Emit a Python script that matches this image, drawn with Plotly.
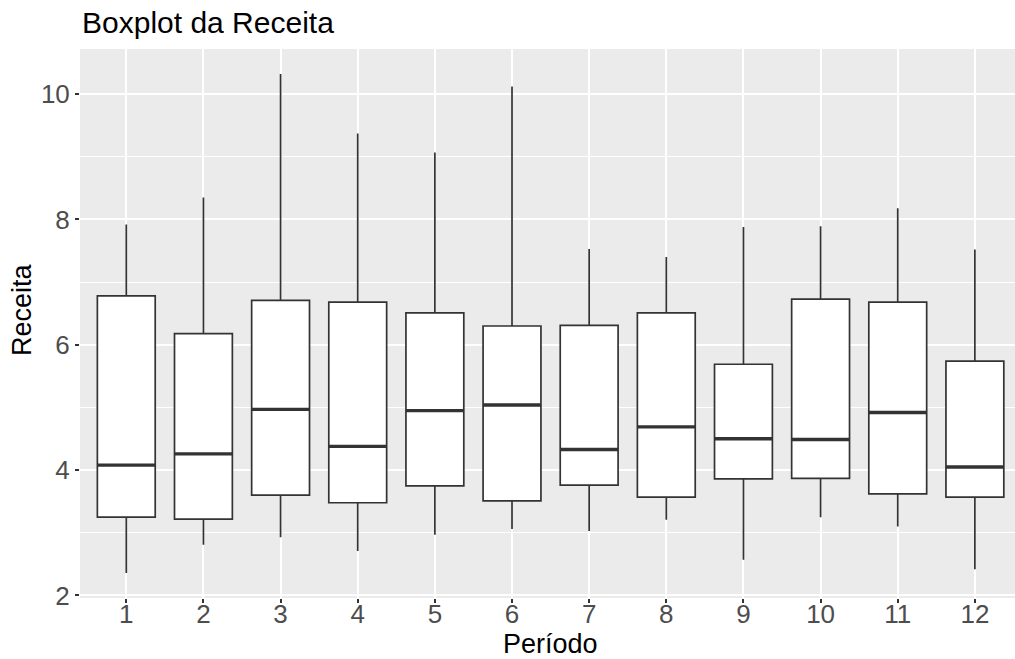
import plotly.graph_objects as go

periodo = [1, 2, 3, 4, 5, 6, 7, 8, 9, 10, 11, 12]
minimo  = [2.36, 2.81, 2.93, 2.71, 2.97, 3.06, 3.03, 3.21, 2.57, 3.25, 3.10, 2.42]
q1      = [3.25, 3.22, 3.60, 3.48, 3.75, 3.51, 3.76, 3.57, 3.86, 3.87, 3.62, 3.57]
mediana = [4.08, 4.26, 4.97, 4.38, 4.95, 5.04, 4.33, 4.69, 4.50, 4.49, 4.92, 4.05]
q3      = [6.78, 6.18, 6.71, 6.68, 6.51, 6.30, 6.31, 6.51, 5.69, 6.73, 6.68, 5.74]
maximo  = [7.92, 8.35, 10.32, 9.37, 9.07, 10.12, 7.53, 7.40, 7.88, 7.89, 8.18, 7.52]
y_ticks = [2, 4, 6, 8, 10]

BOX_W = 0.75
LINE = "#333333"
FONT = "Liberation Sans, Arial, sans-serif"

fig = go.Figure()
fig.add_trace(go.Box(
    x=periodo, q1=q1, median=mediana, q3=q3,
    lowerfence=minimo, upperfence=maximo,
    width=BOX_W, whiskerwidth=0,
    fillcolor="white", line=dict(color=LINE, width=1.7),
    boxpoints=False, showlegend=False, hoverinfo="skip",
))

# thicker median bars (as in ggplot2)
mx, my = [], []
for p, m in zip(periodo, mediana):
    mx += [p - BOX_W / 2, p + BOX_W / 2, None]
    my += [m, m, None]
fig.add_trace(go.Scatter(x=mx, y=my, mode="lines",
                         line=dict(color=LINE, width=3.4),
                         showlegend=False, hoverinfo="skip"))

fig.update_layout(
    width=1015, height=659,
    margin=dict(l=80, r=0, t=49, b=61),
    paper_bgcolor="white", plot_bgcolor="#EBEBEB",
    font=dict(family=FONT, color="black"),
    title=dict(text="Boxplot da Receita", x=0, xref="paper", xanchor="left",
               y=1, yref="container", yanchor="top", pad=dict(t=12, l=2),
               font=dict(size=30, color="black")),
    annotations=[
        dict(text="Período", xref="x", x=6.5, yref="paper", y=0,
             yanchor="middle", xanchor="center", yshift=-46, showarrow=False,
             font=dict(size=27, color="black")),
        dict(text="Receita", xref="paper", x=0, xshift=-58, xanchor="center",
             yref="paper", y=(598 - 310) / 549, yanchor="middle",
             textangle=-90, showarrow=False,
             font=dict(size=27, color="black")),
    ],
)
fig.update_xaxes(
    range=[0.4, 12.52], tickvals=periodo, ticktext=[str(p) for p in periodo],
    showgrid=True, gridcolor="white", gridwidth=2, zeroline=False,
    ticks="outside", ticklen=4, tickwidth=1.5, tickcolor=LINE,
    tickfont=dict(size=26, color="#4D4D4D"), ticklabelstandoff=-11,
    showline=False,
)
fig.update_yaxes(
    range=[1.96, 10.72], tickvals=y_ticks,
    showgrid=True, gridcolor="white", gridwidth=2, zeroline=False,
    minor=dict(dtick=1, tick0=1, showgrid=True, gridcolor="white", gridwidth=1),
    ticks="outside", ticklen=4, tickwidth=1.5, tickcolor=LINE,
    tickfont=dict(size=26, color="#4D4D4D"),
    showline=False,
)

fig.write_html("out.html")
